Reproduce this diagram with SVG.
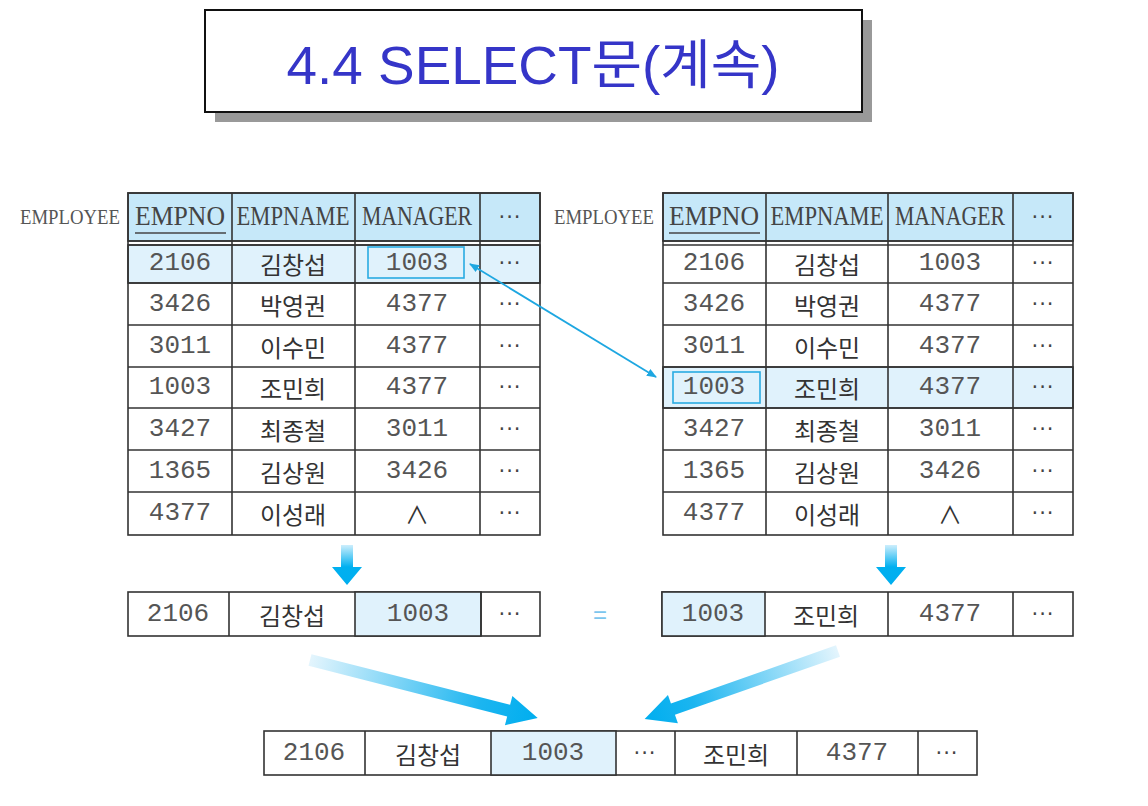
<svg xmlns="http://www.w3.org/2000/svg" width="1148" height="806" viewBox="0 0 1148 806">
<style>
.bg{fill:#ffffff}
.cell{fill:#ffffff;stroke:#333;stroke-width:1.6}
.hdr{fill:#c6e8f9;stroke:#333;stroke-width:1.6}
.hl{fill:#e0f2fc;stroke:#333;stroke-width:1.6}
.grid{stroke:#333;stroke-width:1.6;fill:none}
.box{fill:none;stroke:#29abe2;stroke-width:1.6}
.num{font-family:"Liberation Mono",monospace;font-size:26px;fill:#555;text-anchor:middle;dominant-baseline:central}
.hd{font-family:"Liberation Serif",serif;font-size:27px;fill:#444;text-anchor:middle;dominant-baseline:central}
.ko{font-family:"Noto Sans CJK KR",sans-serif;font-size:24px;fill:#333;text-anchor:middle;dominant-baseline:central}
.dot{font-family:"DejaVu Sans",sans-serif;font-size:21px;fill:#444;text-anchor:middle;dominant-baseline:central;letter-spacing:1px}
.lbl{font-family:"Liberation Serif",serif;font-size:20px;fill:#555;dominant-baseline:central}
.title{font-family:"Liberation Sans","Noto Sans CJK KR",sans-serif;font-size:53px;fill:#3535c8;text-anchor:middle}
.conn{stroke:#1ea7e1;stroke-width:1.8;fill:none}
</style>
<defs>
<marker id="ah" viewBox="0 0 10 10" refX="9" refY="5" markerWidth="10" markerHeight="10" markerUnits="userSpaceOnUse" orient="auto-start-reverse">
<path d="M0,1 L10,5 L0,9 z" fill="#1ea7e1"/>
</marker>
<linearGradient id="gv" x1="0" y1="0" x2="0" y2="1">
<stop offset="0" stop-color="#cdeefc"/>
<stop offset="0.55" stop-color="#00b0f0"/>
<stop offset="1" stop-color="#00aeef"/>
</linearGradient>
<linearGradient id="gh" x1="0" y1="0" x2="1" y2="0">
<stop offset="0" stop-color="#e4f5fd"/>
<stop offset="0.75" stop-color="#1bb5f0"/>
<stop offset="1" stop-color="#00aeef"/>
</linearGradient>
</defs>
<rect class="bg" x="0" y="0" width="1148" height="806"/>

<g id="title">
<rect x="215" y="20" width="657" height="102" fill="#999"/>
<rect x="205" y="10" width="657" height="102" fill="#fff" stroke="#111" stroke-width="2"/>
<text class="title" x="533" y="84" textLength="493" lengthAdjust="spacingAndGlyphs">4.4 SELECT문(계속)</text>
</g>

<g id="employee-left">
<text class="lbl" x="20" y="217" textLength="100" lengthAdjust="spacingAndGlyphs">EMPLOYEE</text>
<rect class="hdr" x="128" y="193" width="412" height="48"/>
<rect class="hl" x="128" y="245" width="412" height="38"/>
<rect class="grid" x="128" y="193" width="412" height="342"/>
<line class="grid" x1="128" y1="241" x2="540" y2="241"/>
<line class="grid" x1="128" y1="245" x2="540" y2="245"/>
<line class="grid" x1="128" y1="283" x2="540" y2="283"/>
<line class="grid" x1="128" y1="325" x2="540" y2="325"/>
<line class="grid" x1="128" y1="367" x2="540" y2="367"/>
<line class="grid" x1="128" y1="408" x2="540" y2="408"/>
<line class="grid" x1="128" y1="450" x2="540" y2="450"/>
<line class="grid" x1="128" y1="492" x2="540" y2="492"/>
<line class="grid" x1="232" y1="193" x2="232" y2="535"/>
<line class="grid" x1="355" y1="193" x2="355" y2="535"/>
<line class="grid" x1="480" y1="193" x2="480" y2="535"/>
<text class="hd" x="180" y="216" textLength="90" lengthAdjust="spacingAndGlyphs">EMPNO</text>
<line x1="135" y1="233" x2="226" y2="233" stroke="#444" stroke-width="1.6"/>
<text class="hd" x="293" y="216" textLength="113" lengthAdjust="spacingAndGlyphs">EMPNAME</text>
<text class="hd" x="417" y="216" textLength="110" lengthAdjust="spacingAndGlyphs">MANAGER</text>
<text class="dot" x="510" y="217">···</text>
<rect class="box" x="368" y="247" width="96" height="31"/>
<text class="num" x="180" y="263">2106</text><text class="ko" x="293" y="263">김창섭</text><text class="num" x="417" y="263">1003</text><text class="dot" x="510" y="263">···</text>
<text class="num" x="180" y="304">3426</text><text class="ko" x="293" y="304">박영권</text><text class="num" x="417" y="304">4377</text><text class="dot" x="510" y="304">···</text>
<text class="num" x="180" y="346">3011</text><text class="ko" x="293" y="346">이수민</text><text class="num" x="417" y="346">4377</text><text class="dot" x="510" y="346">···</text>
<text class="num" x="180" y="387">1003</text><text class="ko" x="293" y="387">조민희</text><text class="num" x="417" y="387">4377</text><text class="dot" x="510" y="387">···</text>
<text class="num" x="180" y="429">3427</text><text class="ko" x="293" y="429">최종철</text><text class="num" x="417" y="429">3011</text><text class="dot" x="510" y="429">···</text>
<text class="num" x="180" y="471">1365</text><text class="ko" x="293" y="471">김상원</text><text class="num" x="417" y="471">3426</text><text class="dot" x="510" y="471">···</text>
<text class="num" x="180" y="513">4377</text><text class="ko" x="293" y="513">이성래</text><text class="ko" x="417" y="513">∧</text><text class="dot" x="510" y="513">···</text>
</g>

<g id="employee-right">
<text class="lbl" x="554" y="217" textLength="100" lengthAdjust="spacingAndGlyphs">EMPLOYEE</text>
<rect class="hdr" x="663" y="193" width="410" height="48"/>
<rect class="hl" x="663" y="367" width="410" height="41"/>
<rect class="grid" x="663" y="193" width="410" height="342"/>
<line class="grid" x1="663" y1="241" x2="1073" y2="241"/>
<line class="grid" x1="663" y1="245" x2="1073" y2="245"/>
<line class="grid" x1="663" y1="283" x2="1073" y2="283"/>
<line class="grid" x1="663" y1="325" x2="1073" y2="325"/>
<line class="grid" x1="663" y1="367" x2="1073" y2="367"/>
<line class="grid" x1="663" y1="408" x2="1073" y2="408"/>
<line class="grid" x1="663" y1="450" x2="1073" y2="450"/>
<line class="grid" x1="663" y1="492" x2="1073" y2="492"/>
<line class="grid" x1="766" y1="193" x2="766" y2="535"/>
<line class="grid" x1="888" y1="193" x2="888" y2="535"/>
<line class="grid" x1="1013" y1="193" x2="1013" y2="535"/>
<text class="hd" x="714" y="216" textLength="90" lengthAdjust="spacingAndGlyphs">EMPNO</text>
<line x1="669" y1="233" x2="760" y2="233" stroke="#444" stroke-width="1.6"/>
<text class="hd" x="827" y="216" textLength="113" lengthAdjust="spacingAndGlyphs">EMPNAME</text>
<text class="hd" x="950" y="216" textLength="110" lengthAdjust="spacingAndGlyphs">MANAGER</text>
<text class="dot" x="1043" y="217">···</text>
<rect class="box" x="673" y="372" width="87" height="31"/>
<text class="num" x="714" y="263">2106</text><text class="ko" x="827" y="263">김창섭</text><text class="num" x="950" y="263">1003</text><text class="dot" x="1043" y="263">···</text>
<text class="num" x="714" y="304">3426</text><text class="ko" x="827" y="304">박영권</text><text class="num" x="950" y="304">4377</text><text class="dot" x="1043" y="304">···</text>
<text class="num" x="714" y="346">3011</text><text class="ko" x="827" y="346">이수민</text><text class="num" x="950" y="346">4377</text><text class="dot" x="1043" y="346">···</text>
<text class="num" x="714" y="387">1003</text><text class="ko" x="827" y="387">조민희</text><text class="num" x="950" y="387">4377</text><text class="dot" x="1043" y="387">···</text>
<text class="num" x="714" y="429">3427</text><text class="ko" x="827" y="429">최종철</text><text class="num" x="950" y="429">3011</text><text class="dot" x="1043" y="429">···</text>
<text class="num" x="714" y="471">1365</text><text class="ko" x="827" y="471">김상원</text><text class="num" x="950" y="471">3426</text><text class="dot" x="1043" y="471">···</text>
<text class="num" x="714" y="513">4377</text><text class="ko" x="827" y="513">이성래</text><text class="ko" x="950" y="513">∧</text><text class="dot" x="1043" y="513">···</text>
</g>

<g id="row-left">
<rect class="cell" x="128" y="592" width="412" height="44"/>
<rect class="hl" x="355" y="592" width="126" height="44"/>
<line class="grid" x1="229" y1="592" x2="229" y2="636"/>
<line class="grid" x1="481" y1="592" x2="481" y2="636"/>
<text class="num" x="178" y="614">2106</text><text class="ko" x="292" y="614">김창섭</text><text class="num" x="418" y="614">1003</text><text class="dot" x="510" y="614">···</text>
</g>

<g id="equals">
<text x="600" y="614" font-family="Liberation Sans,sans-serif" font-size="24" fill="#7cc6ee" text-anchor="middle" dominant-baseline="central">=</text>
</g>

<g id="row-right">
<rect class="cell" x="662" y="592" width="411" height="44"/>
<rect class="hl" x="662" y="592" width="103" height="44"/>
<line class="grid" x1="888" y1="592" x2="888" y2="636"/>
<line class="grid" x1="1013" y1="592" x2="1013" y2="636"/>
<text class="num" x="713" y="614">1003</text><text class="ko" x="826" y="614">조민희</text><text class="num" x="950" y="614">4377</text><text class="dot" x="1043" y="614">···</text>
</g>

<g id="row-result">
<rect class="cell" x="264" y="731" width="713" height="44"/>
<rect class="hl" x="491" y="731" width="125" height="44"/>
<line class="grid" x1="365" y1="731" x2="365" y2="775"/>
<line class="grid" x1="675" y1="731" x2="675" y2="775"/>
<line class="grid" x1="797" y1="731" x2="797" y2="775"/>
<line class="grid" x1="918" y1="731" x2="918" y2="775"/>
<text class="num" x="314" y="753">2106</text><text class="ko" x="428" y="753">김창섭</text><text class="num" x="553" y="753">1003</text><text class="dot" x="645" y="753">···</text><text class="ko" x="736" y="753">조민희</text><text class="num" x="857" y="753">4377</text><text class="dot" x="947" y="753">···</text>
</g>

<g id="connectors">
<line class="conn" x1="470" y1="264" x2="656" y2="377" marker-start="url(#ah)" marker-end="url(#ah)"/>
<polygon points="341,545 353,545 353,567 362,567 347,585 332,567 341,567" fill="url(#gv)"/>
<polygon points="885,545 897,545 897,567 906,567 891,585 876,567 885,567" fill="url(#gv)"/>
<g transform="translate(310,660) rotate(14.3)">
<polygon points="0,-6 205,-6 205,-15 235,0 205,15 205,6 0,6" fill="url(#gh)"/>
</g>
<g transform="translate(838,651) rotate(160.6)">
<polygon points="0,-6 175,-6 175,-15 205,0 175,15 175,6 0,6" fill="url(#gh)"/>
</g>
</g>
</svg>
